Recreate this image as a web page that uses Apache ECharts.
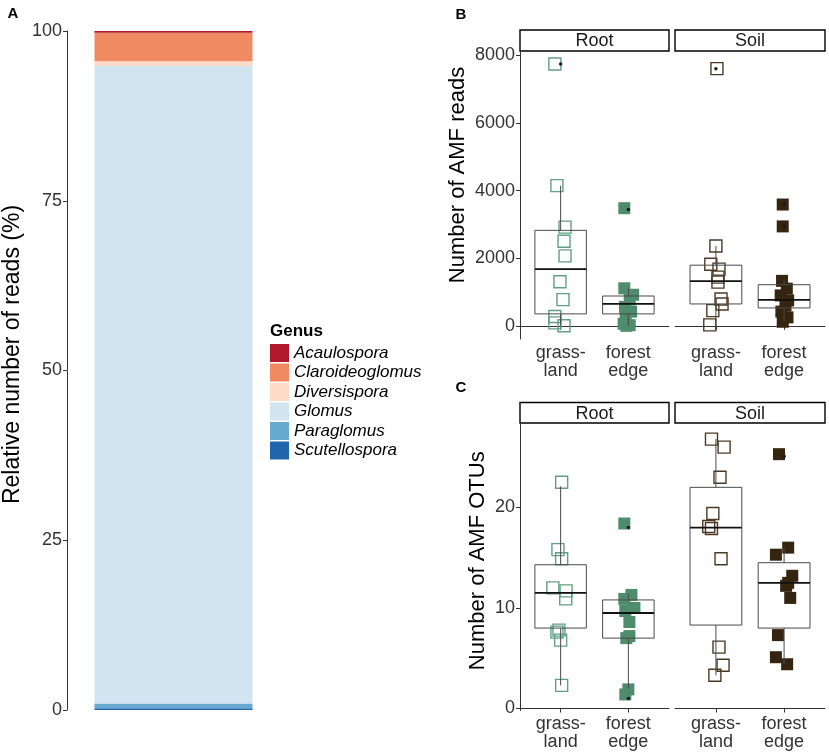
<!DOCTYPE html>
<html><head><meta charset="utf-8">
<script src="https://cdn.jsdelivr.net/npm/echarts@6/dist/echarts.min.js"></script>
<style>html,body{margin:0;padding:0;background:#fff}#c{width:829px;height:754px}</style>
</head><body><div id="c"></div>
<script>
const FONT = '"Liberation Sans", Arial, Helvetica, sans-serif';

// ---------- Panel A: relative reads per genus (%) ----------
const genera = ['Acaulospora','Claroideoglomus','Diversispora','Glomus','Paraglomus','Scutellospora'];
const genusColors = ['#b2182b','#ef8a62','#fddbc7','#d1e5f0','#67a9cf','#2166ac'];
const genusShare = [0.25, 4.2, 0.7, 93.9, 0.7, 0.25];
const yTicksA = [0, 25, 50, 75, 100];

// ---------- Panels B / C ----------
const habitats = ['grass-\nland', 'forest\nedge'];
const compartments = ['Root', 'Soil'];
const yTicksReads = [0, 2000, 4000, 6000, 8000];
const yTicksOTUs = [0, 10, 20];

// B: number of AMF reads (jitter = horizontal offset in category units)
const readsRootGrass    = [7744, 4147, 2921, 2500, 2068, 1303, 774, 274, 88, 0];
const readsRootGrassJit = [-0.085, -0.055, 0.065, 0.05, 0.065, -0.01, 0.035, -0.085, -0.085, 0.05];
const readsRootForest    = [3480, 1110, 920, 780, 560, 420, 350, 60, 20, 0];
const readsRootForestJit = [-0.06, -0.06, 0.07, 0.02, -0.05, 0.04, -0.04, -0.07, 0.02, -0.03];
const readsSoilGrass    = [7608, 2362, 1823, 1676, 1441, 1294, 794, 647, 450, 29];
const readsSoilGrassJit = [0.015, 0, -0.075, 0.045, 0.03, 0.03, 0.075, 0.09, -0.045, -0.09];
const readsSoilForest    = [3588, 2941, 1330, 1100, 900, 750, 600, 420, 250, 120];
const readsSoilForestJit = [-0.02, -0.02, -0.03, 0.04, -0.05, 0.06, 0.02, -0.04, 0.05, -0.02];
// box stats [lower whisker, Q1, median, Q3, upper whisker]
const boxReadsRoot = [[0, 353, 1676, 2824, 4147], [0, 353, 647, 882, 1110]];
const boxReadsSoil = [[20, 647, 1323, 1794, 2362], [120, 529, 765, 1216, 1333]];
const outReadsRoot = [[7744], [3441]];
const outReadsSoil = [[7608], [3588, 2941]];

// C: number of AMF OTUs
const otusRootGrass    = [22.5, 15.8, 14.9, 12.0, 11.7, 10.9, 7.8, 7.6, 6.8, 2.3];
const otusRootGrassJit = [0.015, -0.04, 0.015, -0.115, 0.08, 0.075, -0.025, -0.055, 0, 0.015];
const otusRootForest    = [18.4, 11.3, 10.9, 10.0, 9.7, 8.6, 7.2, 7.0, 1.9, 1.4];
const otusRootForestJit = [-0.06, 0.045, -0.06, 0.09, -0.045, 0.015, 0.015, -0.03, 0, -0.045];
const otusSoilGrass    = [26.8, 26.0, 23.0, 19.4, 18.1, 17.9, 14.9, 6.1, 4.3, 3.3];
const otusSoilGrassJit = [-0.065, 0.12, 0.06, -0.045, -0.105, -0.065, 0.075, 0.045, 0.105, -0.015];
const otusSoilForest    = [25.3, 16.0, 15.3, 13.2, 12.5, 12.2, 11.0, 7.3, 5.1, 4.4];
const otusSoilForestJit = [-0.075, 0.06, -0.12, 0.12, 0.06, 0.03, 0.09, -0.09, -0.12, 0.045];
const boxOtusRoot = [[2.3, 8.0, 11.5, 14.3, 22.1], [2.0, 7.0, 9.5, 10.8, 11.4]];
const boxOtusSoil = [[3.3, 8.3, 18.0, 22.0, 26.8], [4.4, 8.0, 12.5, 14.5, 16.0]];
const outOtusRoot = [[], [18.0, 1.0]];
const outOtusSoil = [[], [25.1]];

const compColors = { Root: '#4f8c6e', Soil: '#35240f' };
const compOpen = { Root: '#62a083', Soil: '#4d3a25' };

// ---------- helpers ----------
const pts = (vals, jit, cat) => vals.map((v, i) => [cat + jit[i], v]);
function renderBox(params, api) {
  const x = api.value(0);
  const lw = api.value(1), q1 = api.value(2), md = api.value(3), q3 = api.value(4), uw = api.value(5);
  const hw = 0.38;
  const a = api.coord([x - hw, q3]);
  const b = api.coord([x + hw, q1]);
  const c = api.coord([x, uw]);
  const d = api.coord([x, lw]);
  const m1 = api.coord([x - hw, md]);
  const m2 = api.coord([x + hw, md]);
  const ls = { stroke: '#4a4a4a', lineWidth: 1 };
  return { type: 'group', children: [
    { type: 'line', shape: { x1: c[0], y1: c[1], x2: c[0], y2: a[1] }, style: ls },
    { type: 'line', shape: { x1: d[0], y1: b[1], x2: d[0], y2: d[1] }, style: ls },
    { type: 'rect', shape: { x: a[0], y: a[1], width: b[0] - a[0], height: b[1] - a[1] }, style: { fill: 'none', stroke: '#4a4a4a', lineWidth: 1 } },
    { type: 'line', shape: { x1: m1[0], y1: m1[1], x2: m2[0], y2: m2[1] }, style: { stroke: '#111', lineWidth: 1.8 } }
  ]};
}

const grids = [
  { left: 66, top: 31, width: 214, height: 679 },
  { left: 520, top: 51, width: 149, height: 288 },
  { left: 675, top: 51, width: 150, height: 288 },
  { left: 520, top: 423, width: 149, height: 287.5 },
  { left: 675, top: 423, width: 150, height: 287.5 }
];

const tickLabel = { color: '#333', fontSize: 18, fontFamily: FONT };
const axisLineStyle = { show: true, lineStyle: { color: '#333', width: 1 } };
const plainNum = v => String(v);

const xAxes = [
  { gridIndex: 0, type: 'category', data: ['all'], show: false },
];
for (let g = 1; g <= 4; g++) {
  xAxes.push({
    gridIndex: g, type: 'value', min: 0.4, max: 2.6,
    axisLine: axisLineStyle,
    axisTick: { show: true, length: 4, customValues: [1, 2], lineStyle: { color: '#333' } },
    axisLabel: Object.assign({ customValues: [1, 2], margin: 5, lineHeight: 18,
      formatter: v => habitats[Math.round(v) - 1] }, tickLabel),
    splitLine: { show: false }
  });
}

// shiftUp moves the rotated title towards the top (via left padding in text frame)
const yName = (name, gap, size, shiftUp) => ({
  name: name, nameLocation: 'middle', nameRotate: 90, nameGap: gap,
  nameTextStyle: { fontSize: size, color: '#000', fontFamily: FONT, padding: [0, 0, 0, 2 * shiftUp] }
});

const yAxes = [
  Object.assign({ gridIndex: 0, type: 'value', min: 0, max: 100, interval: 25,
    axisLine: axisLineStyle, axisTick: { show: true, length: 4, lineStyle: { color: '#333' } },
    axisLabel: Object.assign({ margin: 5, customValues: yTicksA, formatter: plainNum }, tickLabel), splitLine: { show: false } },
    yName('Relative number of reads (%)', 43, 23, 16)),
  Object.assign({ gridIndex: 1, type: 'value', min: -390, max: 8130,
    axisLine: axisLineStyle, axisTick: { show: true, length: 4, customValues: yTicksReads, lineStyle: { color: '#333' } },
    axisLabel: Object.assign({ margin: 5, customValues: yTicksReads, formatter: plainNum }, tickLabel), splitLine: { show: false } },
    yName('Number of AMF reads', 51, 22, 20)),
  { gridIndex: 2, type: 'value', min: -390, max: 8130, show: false, splitLine: { show: false } },
  Object.assign({ gridIndex: 3, type: 'value', min: -0.2, max: 28.4,
    axisLine: axisLineStyle, axisTick: { show: true, length: 4, customValues: yTicksOTUs, lineStyle: { color: '#333' } },
    axisLabel: Object.assign({ margin: 5, customValues: yTicksOTUs, formatter: plainNum }, tickLabel), splitLine: { show: false } },
    yName('Number of AMF OTUs', 31, 22, 6)),
  { gridIndex: 4, type: 'value', min: -0.2, max: 28.4, show: false, splitLine: { show: false } }
];

const series = [];
// Panel A stacked bar (bottom to top)
for (let i = genera.length - 1; i >= 0; i--) {
  series.push({
    name: genera[i], type: 'bar', stack: 'genus', xAxisIndex: 0, yAxisIndex: 0,
    barWidth: 158, data: [genusShare[i]],
    itemStyle: { color: genusColors[i] }, emphasis: { disabled: true }
  });
}

function addPanel(g, comp, grassVals, grassJit, forestVals, forestJit, boxes, outs) {
  series.push({
    type: 'scatter', xAxisIndex: g, yAxisIndex: g, symbol: 'rect', symbolSize: 12, z: 2,
    data: pts(grassVals, grassJit, 1),
    itemStyle: { color: 'rgba(255,255,255,0)', borderColor: compOpen[comp], borderWidth: 1.4, opacity: 1 }
  });
  series.push({
    type: 'scatter', xAxisIndex: g, yAxisIndex: g, symbol: 'rect', symbolSize: 12, z: 2,
    data: pts(forestVals, forestJit, 2),
    itemStyle: { color: compColors[comp], opacity: 1 }
  });
  series.push({
    type: 'custom', xAxisIndex: g, yAxisIndex: g, z: 3, renderItem: renderBox,
    encode: { x: 0, y: [1, 2, 3, 4, 5] },
    data: boxes.map((b, i) => [i + 1].concat(b))
  });
  const od = [];
  outs.forEach((arr, i) => arr.forEach(v => od.push([i + 1, v])));
  series.push({
    type: 'scatter', xAxisIndex: g, yAxisIndex: g, symbol: 'circle', symbolSize: 3.5, z: 4,
    data: od, itemStyle: { color: '#1a1a1a', opacity: 1 }
  });
}
addPanel(1, 'Root', readsRootGrass, readsRootGrassJit, readsRootForest, readsRootForestJit, boxReadsRoot, outReadsRoot);
addPanel(2, 'Soil', readsSoilGrass, readsSoilGrassJit, readsSoilForest, readsSoilForestJit, boxReadsSoil, outReadsSoil);
addPanel(3, 'Root', otusRootGrass, otusRootGrassJit, otusRootForest, otusRootForestJit, boxOtusRoot, outOtusRoot);
addPanel(4, 'Soil', otusSoilGrass, otusSoilGrassJit, otusSoilForest, otusSoilForestJit, boxOtusSoil, outOtusSoil);

// strips & panel tags
const graphic = [];
const stripDefs = [[1, 30], [2, 30], [3, 402.5], [4, 402.5]];
stripDefs.forEach(([g, top]) => {
  const gr = grids[g];
  graphic.push({ type: 'rect', shape: { x: gr.left, y: top, width: gr.width, height: gr.top - top },
    style: { fill: '#fff', stroke: '#000', lineWidth: 1.4 } });
  graphic.push({ type: 'text', x: gr.left + gr.width / 2, y: top + (gr.top - top) / 2 + 1,
    style: { text: compartments[(g - 1) % 2], fontSize: 18, fontFamily: FONT, fill: '#1a1a1a',
      align: 'center', verticalAlign: 'middle' } });
});
[['A', 13, 14], ['B', 461, 15], ['C', 461, 388]].forEach(([t, x, y]) => {
  graphic.push({ type: 'text', x: x, y: y, style: { text: t, fontSize: 15, fontWeight: 'bold',
    fontFamily: FONT, fill: '#000', align: 'center', verticalAlign: 'middle' } });
});
graphic.push({ type: 'text', x: 270, y: 331, style: { text: 'Genus', fontSize: 17, fontWeight: 'bold',
  fontFamily: FONT, fill: '#000', align: 'left', verticalAlign: 'middle' } });

const chart = echarts.init(document.getElementById('c'), null, { renderer: 'canvas' });
chart.setOption({
  animation: false,
  backgroundColor: '#fff',
  textStyle: { fontFamily: FONT },
  grid: grids,
  xAxis: xAxes,
  yAxis: yAxes,
  legend: {
    data: genera, orient: 'vertical', left: 270, top: 344, padding: 0, icon: 'rect',
    itemWidth: 19, itemHeight: 18, itemGap: 1.5, selectedMode: false,
    textStyle: { fontSize: 17, fontStyle: 'italic', color: '#000', fontFamily: FONT, lineHeight: 18 }
  },
  graphic: graphic,
  series: series
});
</script></body></html>
